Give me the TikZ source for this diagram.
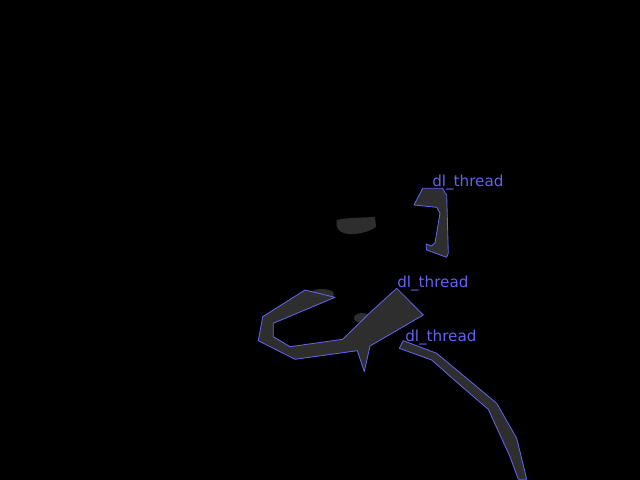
\documentclass[tikz,border=0pt]{standalone}
\usepackage{fontspec}
\newfontfamily\labelfont{DejaVu Sans}
\definecolor{maskgray}{RGB}{46,46,46}
\definecolor{outlineblue}{RGB}{98,98,238}

\begin{document}
\begin{tikzpicture}[x=0.025cm, y=-0.025cm,
		mask/.style={fill=maskgray},
		region/.style={fill=maskgray, draw=outlineblue, line width=0.6pt, line join=round},
		tag/.style={anchor=base west, inner sep=0pt, text=outlineblue, font=\labelfont\fontsize{10.8}{11}\selectfont}]
		\fill[black] (0,0) rectangle (640,480);
		\useasboundingbox (0,0) rectangle (640,480);

		% unlabelled mask
		\fill[mask] (336.7,220) .. controls (350,217) and (365,218) .. (375,216.7) -- (376,226.7) .. controls (370,232) and (356,235) .. (348,234) .. controls (342,233) and (338,231) .. (336.7,226) -- cycle;

		% loose mask parts round the middle region
		\fill[mask] (322,294) ellipse (12 and 5);
		\fill[mask] (362,318) ellipse (8 and 5);

		\draw[region] (422.7,188.3) -- (442.7,188.3) -- (445,192.7) -- (446.7,195) -- (448.3,253.3) -- (446.7,257.3) -- (426.7,250) -- (426,244) -- (431.7,246) -- (435,242.7) -- (440,213.3) -- (436.7,207.3) -- (414,205) -- cycle;

		\draw[region] (305,290) -- (335,297.3) -- (273.3,323.3) -- (273.3,336.7) -- (290,346.7) -- (342.7,339.3) -- (369.3,313.3) -- (396.7,288.3) -- (423.3,315) -- (370,346) -- (364.3,371.7) -- (357.3,350.7) -- (295,359.3) -- (258.3,340.7) -- (262.7,316.7) -- cycle;

		\draw[region] (403.3,340.7) -- (436.7,353.3) -- (496.7,403.3) -- (516.7,438.3) -- (526.7,479.3) -- (518.3,479.3) -- (510,456.7) -- (488.3,409.3) -- (460,385) -- (431.7,360) -- (399.3,348.3) -- cycle;

		\node (t1)[tag] at (432,186) {dl\_thread};
		\node (t2)[tag] at (397,287) {dl\_thread};
		\node (t3)[tag] at (405,341) {dl\_thread};
	\end{tikzpicture}
\end{document}
